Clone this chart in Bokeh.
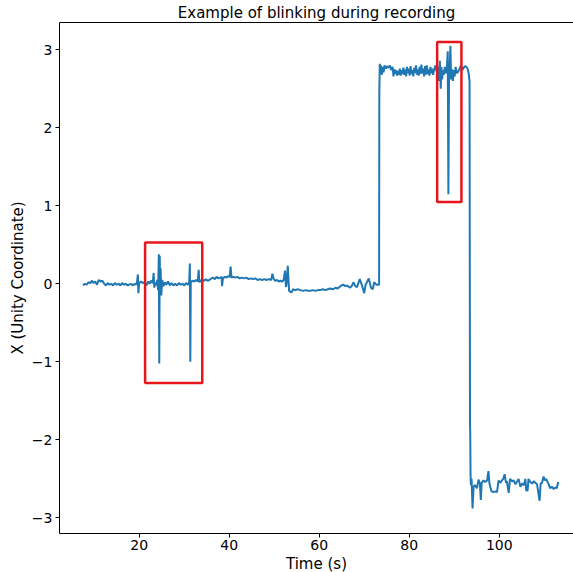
from bokeh.plotting import figure
from bokeh.models import ColumnDataSource, FixedTicker, LinearAxis, Range1d, Title
from bokeh.embed import file_html
from bokeh.resources import INLINE

# Recorded X position (Unity coordinate) over time, seconds
time_s = [
    7.5, 7.9, 8.3, 8.7, 9.1, 9.5, 9.8, 10.2, 10.6, 11.0, 11.4, 11.8, 12.2, 12.6,
    13.0, 13.4, 13.8, 14.2, 14.6, 15.0, 15.4, 15.8, 16.2, 16.6, 17.0, 17.4, 17.8,
    18.2, 18.6, 19.0, 19.3, 19.5, 19.7, 19.8, 20.0, 20.4, 20.8, 21.2, 21.6, 22.0,
    22.3, 22.6, 23.0, 23.2, 23.35, 23.5, 23.8, 24.0, 24.2, 24.35, 24.45, 24.55,
    24.65, 24.75, 24.9, 25.1, 25.4, 25.7, 26.0, 26.4, 26.8, 27.2, 27.6, 28.0,
    28.4, 28.8, 29.2, 29.6, 30.0, 30.4, 30.8, 31.1, 31.25, 31.35, 31.45, 31.8,
    32.2, 32.6, 33.0, 33.2, 33.35, 33.6, 34.0, 34.4, 34.8, 35.2, 35.6, 36.0,
    36.4, 36.8, 37.2, 37.6, 38.0, 38.3, 38.4, 38.6, 39.0, 39.4, 39.8, 40.1,
    40.3, 40.5, 40.9, 41.3, 41.8, 42.3, 42.8, 43.3, 43.8, 44.3, 44.8, 45.3,
    45.8, 46.3, 46.8, 47.3, 47.8, 48.3, 48.8, 49.3, 49.6, 49.9, 50.2, 50.6,
    51.0, 51.4, 51.8, 52.1, 52.4, 52.6, 52.8, 53.0, 53.3, 53.8, 54.2, 54.7,
    55.2, 55.8, 56.4, 57.0, 57.5, 58.0, 58.6, 59.2, 59.7, 60.2, 60.8, 61.4,
    61.9, 62.4, 63.0, 63.6, 64.1, 64.7, 65.3, 65.8, 66.2, 66.6, 66.9, 67.3,
    67.6, 68.0, 68.4, 68.7, 69.0, 69.5, 70.0, 70.3, 70.6, 71.0, 71.5, 71.9,
    72.2, 72.7, 73.2, 73.3, 73.35, 73.45, 73.5, 73.7, 73.9, 74.1, 74.3, 74.5,
    74.8, 75.1, 75.4, 75.7, 76.0, 76.3, 76.5, 76.7, 76.9, 77.1, 77.3, 77.5,
    77.7, 77.9, 78.1, 78.3, 78.5, 78.7, 78.9, 79.1, 79.3, 79.5, 79.7, 79.9,
    80.1, 80.3, 80.5, 80.7, 80.9, 81.1, 81.3, 81.5, 81.7, 81.9, 82.1, 82.3,
    82.5, 82.7, 82.9, 83.1, 83.3, 83.5, 83.7, 83.9, 84.1, 84.3, 84.5, 84.7,
    84.9, 85.1, 85.3, 85.5, 85.8, 86.1, 86.4, 86.6, 86.8, 87.0, 87.15, 87.3,
    87.5, 87.7, 87.9, 88.1, 88.35, 88.55, 88.7, 88.85, 89.0, 89.15, 89.3, 89.5,
    89.7, 89.9, 90.1, 90.3, 90.6, 90.9, 91.2, 91.5, 91.8, 92.1, 92.4, 92.7,
    92.95, 93.2, 93.4, 93.5, 93.55, 93.62, 93.7, 93.85, 94.07, 94.3, 94.6,
    95.04, 95.4, 95.7, 95.9, 96.1, 96.5, 96.9, 97.3, 97.6, 97.8, 98.0, 98.3,
    98.7, 99.1, 99.5, 99.85, 100.2, 100.6, 100.9, 101.2, 101.5, 101.7, 102.1,
    102.4, 102.8, 103.2, 103.6, 104.0, 104.3, 104.7, 105.1, 105.5, 105.8,
    106.0, 106.3, 106.5, 106.9, 107.3, 107.7, 108.0, 108.4, 108.96, 109.2,
    109.5, 109.85, 110.1, 110.4, 111.0, 111.3, 111.7, 112.1, 112.5, 112.8, 113.1,
]

x_unity = [
    -0.02, 0.00, -0.01, 0.02, 0.01, 0.04, 0.01, 0.03, -0.01, 0.05, 0.03, 0.04, 0.00, -0.02,
    0.01, -0.01, 0.00, -0.02, 0.01, -0.01, 0.00, -0.02, 0.01, -0.01, 0.00, -0.02, -0.01,
    0.00, -0.02, 0.00, -0.01, 0.02, 0.12, -0.12, 0.01, 0.03, 0.01, 0.02, -0.02, 0.03,
    0.00, 0.04, 0.01, 0.14, -0.05, 0.02, -0.02, 0.05, -0.08, 0.38, -1.02, 0.36,
    -0.10, 0.20, -0.15, 0.05, -0.03, 0.02, -0.01, 0.03, -0.02, 0.01, -0.02, 0.00,
    -0.02, 0.01, -0.01, 0.00, -0.02, 0.01, -0.01, 0.02, 0.26, -1.00, 0.02, 0.04,
    0.03, 0.05, 0.03, 0.18, 0.02, 0.04, 0.05, 0.04, 0.06, 0.04, 0.05, 0.07,
    0.08, 0.06, 0.09, 0.07, 0.08, 0.09, -0.03, 0.07, 0.09, 0.08, 0.10, 0.09,
    0.22, 0.08, 0.09, 0.08, 0.09, 0.07, 0.08, 0.07, 0.08, 0.06, 0.07, 0.06,
    0.07, 0.05, 0.06, 0.05, 0.06, 0.05, 0.06, 0.05, 0.13, 0.06, 0.04, 0.05,
    0.03, 0.04, 0.03, 0.05, 0.17, -0.04, 0.03, 0.23, -0.09, -0.11, -0.07, -0.08,
    -0.07, -0.08, -0.09, -0.08, -0.09, -0.09, -0.08, -0.09, -0.08, -0.08, -0.07, -0.08,
    -0.07, -0.06, -0.07, -0.05, -0.06, -0.03, -0.01, -0.03, -0.02, -0.04, -0.05, -0.02,
    0.02, -0.03, -0.04, 0.01, 0.06, -0.02, -0.12, -0.01, 0.02, 0.07, -0.05, -0.07,
    0.02, -0.01, -0.01, -0.01, 2.45, 2.82, 2.72, 2.80, 2.68, 2.78, 2.71, 2.80,
    2.76, 2.79, 2.77, 2.80, 2.74, 2.78, 2.66, 2.75, 2.69, 2.74, 2.67, 2.73,
    2.68, 2.76, 2.67, 2.74, 2.69, 2.77, 2.68, 2.75, 2.66, 2.78, 2.70, 2.76,
    2.67, 2.79, 2.69, 2.74, 2.66, 2.77, 2.70, 2.80, 2.68, 2.75, 2.67, 2.78,
    2.69, 2.81, 2.70, 2.76, 2.66, 2.79, 2.68, 2.80, 2.69, 2.75, 2.67, 2.78,
    2.70, 2.76, 2.68, 2.74, 2.80, 2.72, 2.78, 2.60, 2.86, 2.50, 2.78, 2.62,
    2.74, 2.68, 2.78, 2.70, 2.76, 2.98, 1.15, 2.72, 2.80, 3.05, 2.62, 2.75,
    2.60, 2.74, 2.66, 2.78, 2.70, 2.72, 2.76, 2.80, 2.74, 2.77, 2.79, 2.78,
    2.76, 2.70, 2.60, -1.80, -1.90, -2.45, -2.58, -2.50, -2.88, -2.60, -2.58,
    -2.62, -2.51, -2.56, -2.77, -2.55, -2.52, -2.54, -2.52, -2.40, -2.55, -2.60, -2.66,
    -2.67, -2.66, -2.67, -2.52, -2.55, -2.52, -2.50, -2.44, -2.55, -2.53, -2.68,
    -2.50, -2.53, -2.52, -2.57, -2.53, -2.50, -2.60, -2.56, -2.58, -2.50,
    -2.65, -2.65, -2.50, -2.54, -2.56, -2.53, -2.55, -2.57, -2.78, -2.56,
    -2.55, -2.47, -2.52, -2.50, -2.57, -2.62, -2.60, -2.63, -2.61, -2.62, -2.54,
]

# Highlighted blink windows
box_left = [21.3, 86.2]
box_right = [34.0, 91.6]
box_bottom = [-1.27, 1.05]
box_top = [0.53, 3.10]

x_ticks = [20, 40, 60, 80, 100]
y_ticks = [-3, -2, -1, 0, 1, 2, 3]
y_tick_labels = {-3: "\u22123", -2: "\u22122", -1: "\u22121", 0: "0", 1: "1", 2: "2", 3: "3"}

FONT = "DejaVu Sans"
X_MIN, X_MAX = 2.28, 116.5
Y_MIN, Y_MAX = -3.2, 3.35

p = figure(
    width=573, height=572,
    x_range=Range1d(X_MIN, X_MAX), y_range=Range1d(Y_MIN, Y_MAX),
    output_backend="svg", toolbar_location=None,
    min_border_left=59, min_border_right=0, min_border_top=22, min_border_bottom=39,
    title="Example of blinking during recording",
)
p.outline_line_color = None
p.grid.visible = False
p.background_fill_color = "white"
p.border_fill_color = "white"

p.title.align = "center"
p.title.text_font = FONT
p.title.text_font_size = "15px"
p.title.text_font_style = "normal"
p.title.text_color = "black"
p.title.standoff = 2

src = ColumnDataSource(dict(t=time_s, x=x_unity))
p.line("t", "x", source=src, line_color="#1f77b4", line_width=2)

p.quad(left=box_left, right=box_right, bottom=box_bottom, top=box_top,
       fill_alpha=0, line_color="#e8161b", line_width=2.5)

for ax in (p.xaxis[0], p.yaxis[0]):
    ax.axis_line_color = "black"
    ax.axis_line_width = 1
    ax.major_tick_line_color = "black"
    ax.major_tick_out = 4
    ax.major_tick_in = 0
    ax.minor_tick_out = 0
    ax.minor_tick_in = 0
    ax.major_label_text_font = FONT
    ax.major_label_text_font_size = "14px"
    ax.major_label_text_color = "black"
    ax.major_label_standoff = 3
    ax.axis_label_text_font = FONT
    ax.axis_label_text_font_size = "15px"
    ax.axis_label_text_font_style = "normal"
    ax.axis_label_text_color = "black"
    ax.axis_label_standoff = 2

p.xaxis.major_label_standoff = 2

p.xaxis.ticker = FixedTicker(ticks=x_ticks)
p.yaxis.ticker = FixedTicker(ticks=y_ticks)
p.yaxis.major_label_overrides = y_tick_labels
p.yaxis.axis_label = "X (Unity Coordinate)"

# x-axis title placed as a bottom title, centred under the axes
p.add_layout(Title(text="Time (s)", align="center", offset=3, standoff=0,
                   text_font=FONT, text_font_size="15px", text_font_style="normal",
                   text_color="black"), "below")

# top spine
top = LinearAxis(ticker=FixedTicker(ticks=[]), axis_line_color="black",
                 major_label_text_font_size="0px", major_tick_out=0, minor_tick_out=0)
p.add_layout(top, "above")

open("out.html", "w").write(file_html(p, INLINE))
